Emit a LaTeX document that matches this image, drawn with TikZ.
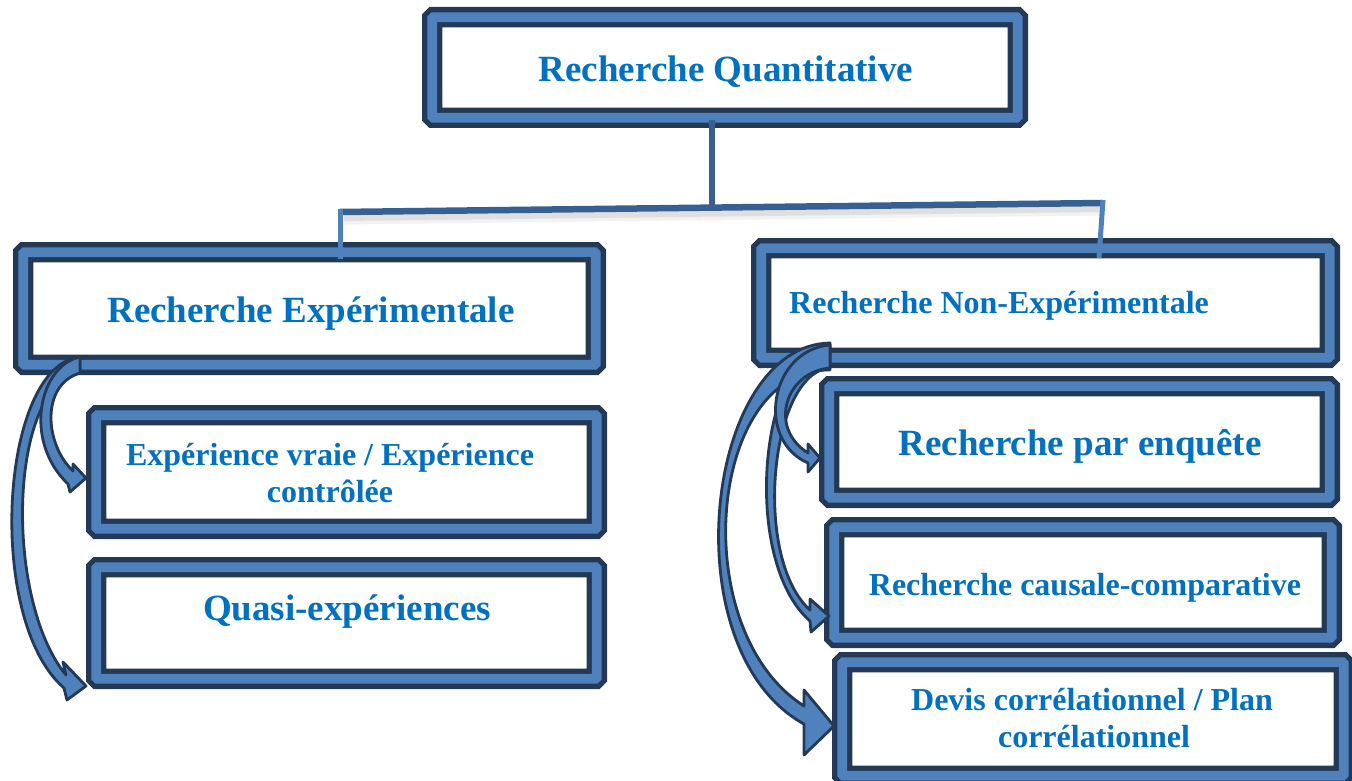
\documentclass[tikz,border=0pt]{standalone}
\usepackage{fontspec}
\setmainfont{Liberation Serif}
\definecolor{dk}{RGB}{35,57,86}
\definecolor{bd}{RGB}{79,129,189}
\definecolor{cn}{RGB}{54,96,146}
\definecolor{tx}{RGB}{0,112,192}
\tikzset{
  box/.style={draw=dk, double=bd, double distance=9.8pt, line width=5.3pt, fill=white,
    rounded corners=1.5pt, inner sep=0pt, rectangle},
  big/.style={text=tx, font=\bfseries\fontsize{37}{40}\selectfont, anchor=base, inner sep=0pt},
  sml/.style={text=tx, font=\bfseries\fontsize{32}{36}\selectfont, anchor=base, inner sep=0pt},
  conn/.style={draw=cn, line width=6.5pt},
  tick/.style={draw=bd, line width=5pt},
  arr/.style={fill=bd, draw=dk, line width=2.8pt, line join=round},
}
\begin{document}
\begin{tikzpicture}[x=1pt,y=-1pt]
\useasboundingbox (0,0) rectangle (1352,781);
% boxes
\node[box, minimum width=585.6pt, minimum height=100.6pt] (top) at (725,67.5) {};
\node[box, minimum width=572.6pt, minimum height=112.6pt] (exp) at (309.5,308.5) {};
\node[box, minimum width=568.6pt, minimum height=109.6pt] (nexp) at (1045.5,303) {};
\node[box, minimum width=500.6pt, minimum height=113.6pt] (vraie) at (346.5,472) {};
\node[box, minimum width=500.6pt, minimum height=111.6pt] (quasi) at (346.5,623) {};
\node[box, minimum width=500.6pt, minimum height=111.6pt] (enq) at (1079.5,442) {};
\node[box, minimum width=497.6pt, minimum height=110.6pt] (caus) at (1083,582.5) {};
\node[box, minimum width=501.6pt, minimum height=113.6pt] (dev) at (1093,719) {};
% texts
\node[big] (t1) at (726,82) {Recherche Quantitative};
\node[big] (t2) at (311,322) {Recherche Expérimentale};
\node[sml, anchor=base west] (t3) at (789,313) {Recherche Non-Expérimentale};
\node[sml] (t4a) at (330,465) {Expérience vraie / Expérience};
\node[sml] (t4b) at (330,502) {contrôlée};
\node[big] (t5) at (347,620) {Quasi-expériences};
\node[big] (t6) at (1080,455) {Recherche par enquête};
\node[sml] (t7) at (1085,595) {Recherche causale-comparative};
\node[sml] (t8a) at (1092,710) {Devis corrélationnel / Plan};
\node[sml] (t8b) at (1094,747) {corrélationnel};
% connectors
\coordinate (hub) at (712,207);
\coordinate (bl) at (340,212);
\coordinate (br) at (1103,203);
\coordinate (tl) at (340,259);
\coordinate (tr) at (1099,258);
\draw[black, line width=11pt, opacity=0.05] (344,219) -- (1101,210);
\draw[black, line width=6pt, opacity=0.08] (344,218) -- (1101,209);
\draw[conn] (top.south -| hub) -- (hub);
\draw[conn] (bl) -- (br);
\draw[tick] ([yshift=3pt]bl) -- (tl);
\draw[tick] ([yshift=3pt]br) -- (tr);
% left curved arrows
\filldraw[arr] (80,357) .. controls (0,365) and (-15,620) .. (64,688)
  -- (67,700) -- (86,686) -- (63,662) -- (66,675)
  .. controls (4,600) and (8,385) .. (80,373) -- cycle;
\filldraw[arr] (80,357) .. controls (40,365) and (22,440) .. (68,484)
  -- (70,492) -- (86,478) -- (73,464) -- (73,471)
  .. controls (45,445) and (40,385) .. (80,373) -- cycle;
% right curved arrows
\filldraw[arr] (830,343) .. controls (705,345) and (670,650) .. (804,724)
  -- (804,755) -- (834,726) -- (804,690) -- (804,706)
  .. controls (685,630) and (708,368) .. (830,370) -- cycle;
\filldraw[arr] (830,345) .. controls (760,350) and (740,560) .. (810,621)
  -- (811,632) -- (829,616) -- (810,599) -- (810,610)
  .. controls (752,558) and (770,372) .. (830,368) -- cycle;
\filldraw[arr] (830,345) .. controls (770,350) and (755,440) .. (808,463)
  -- (808,472) -- (820,458) -- (808,444) -- (808,453)
  .. controls (768,428) and (785,372) .. (830,368) -- cycle;
\end{tikzpicture}
\end{document}
